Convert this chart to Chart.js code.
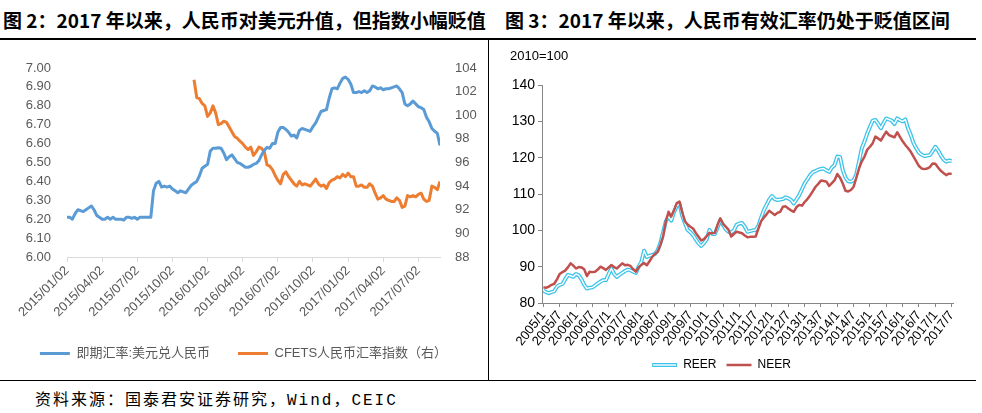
<!DOCTYPE html>
<html>
<head>
<meta charset="utf-8">
<script src="https://cdn.jsdelivr.net/npm/chart.js@4.4.0/dist/chart.umd.min.js"></script>
<style>
  body { margin: 0; background: #fff; width: 982px; height: 413px; position: relative; overflow: hidden; font-family: "Noto Sans CJK SC", sans-serif; }
  .title { position: absolute; top: 6px; font-weight: bold; font-size: 19px; color: #000; white-space: nowrap; line-height: 28px; }
  #t2 { left: 3px; }
  #t3 { left: 505px; }
  .hline { position: absolute; left: 0; width: 976px; background: #000; }
  #topLine { top: 38px; height: 2px; }
  #bottomLine { top: 380px; height: 1px; }
  #vline { position: absolute; left: 488px; top: 40px; width: 1px; height: 341px; background: #000; }
  #leftBox { position: absolute; left: 0; top: 40px; width: 487px; height: 330px; }
  #rightBox { position: absolute; left: 490px; top: 40px; width: 486px; height: 341px; }
  #unit { position: absolute; left: 510px; top: 48px; font: 13px "Liberation Sans", Arial, sans-serif; color: #000; }
  #source { position: absolute; left: 35px; top: 386px; font-size: 16px; letter-spacing: 2px; font-family: "Liberation Mono", "Noto Sans CJK SC", monospace; color: #000; }
</style>
</head>
<body>
<div class="title" id="t2">图 2：2017 年以来，人民币对美元升值，但指数小幅贬值</div>
<div class="title" id="t3">图 3：2017 年以来，人民币有效汇率仍处于贬值区间</div>
<div class="hline" id="topLine"></div>
<div id="vline"></div>
<div class="hline" id="bottomLine"></div>
<div id="leftBox"><canvas id="fxChart"></canvas></div>
<div id="rightBox"><canvas id="eerChart"></canvas></div>
<div id="unit">2010=100</div>
<div id="source">资料来源：国泰君安证券研究，Wind，CEIC</div>

<script>
// ---- figure 2: weekly data, 2015/01/02 onwards ----
var weekTicks = ['2015/01/02', '2015/04/02', '2015/07/02', '2015/10/02', '2016/01/02', '2016/04/02',
    '2016/07/02', '2016/10/02', '2017/01/02', '2017/04/02', '2017/07/02'];
var weeksPerTick = 13;

var usdCny = [
    6.21, 6.21, 6.20, 6.23, 6.25, 6.245, 6.24, 6.25, 6.26, 6.27,
    6.25, 6.22, 6.21, 6.20, 6.20, 6.21, 6.20, 6.21, 6.20, 6.20,
    6.20, 6.195, 6.21, 6.21, 6.205, 6.21, 6.20, 6.21, 6.21, 6.21,
    6.21, 6.21, 6.35, 6.39, 6.40, 6.37, 6.375, 6.37, 6.375, 6.36,
    6.35, 6.34, 6.35, 6.345, 6.34, 6.36, 6.38, 6.39, 6.40, 6.43,
    6.47, 6.48, 6.49, 6.56, 6.575, 6.575, 6.578, 6.575, 6.55, 6.515,
    6.53, 6.54, 6.52, 6.50, 6.495, 6.485, 6.475, 6.475, 6.48, 6.49,
    6.495, 6.51, 6.54, 6.565, 6.58, 6.575, 6.60, 6.60, 6.66, 6.685,
    6.685, 6.675, 6.66, 6.64, 6.645, 6.63, 6.67, 6.68, 6.675, 6.67,
    6.665, 6.69, 6.71, 6.74, 6.77, 6.775, 6.78, 6.84, 6.89, 6.895,
    6.89, 6.92, 6.945, 6.952, 6.94, 6.915, 6.87, 6.87, 6.875, 6.87,
    6.88, 6.87, 6.88, 6.905, 6.90, 6.89, 6.895, 6.885, 6.89, 6.89,
    6.895, 6.90, 6.905, 6.89, 6.87, 6.81, 6.80, 6.81, 6.825, 6.81,
    6.795, 6.79, 6.78, 6.74, 6.715, 6.68, 6.665, 6.655, 6.59
];

// CFETS index only starts at week 47 (end of 2015)
var cfetsStart = 47;
var cfets = [
    103.0, 101.5, 101.4, 101.0, 100.8, 99.9, 100.2, 100.8, 100.2, 99.2,
    99.3, 99.5, 99.4, 99.0, 98.6, 98.2, 98.05, 97.8, 97.6, 97.3,
    97.1, 97.3, 96.6, 96.9, 97.3, 97.2, 96.9, 95.8, 95.7, 95.4,
    94.9, 94.5, 94.2, 95.0, 95.2, 94.8, 94.5, 94.2, 94.0, 94.4,
    94.1, 94.2, 94.1, 94.0, 94.3, 94.6, 94.2, 94.0, 94.1, 93.8,
    94.3, 94.5, 94.6, 94.8, 94.7, 95.0, 94.8, 95.1, 94.8, 94.8,
    94.0, 94.0, 94.1, 93.9, 93.9, 94.2, 94.0, 93.4, 92.9, 93.0,
    93.2, 92.9, 92.8, 92.7, 92.7, 93.0, 92.8, 92.2, 92.3, 93.2,
    93.1, 93.2, 93.1, 93.3, 93.4, 92.9, 92.7, 92.8, 94.0, 93.9,
    93.7, 94.4
];

// ---- figure 3: monthly data, 2005/1 - 2017/7 ----
var monthTicks = ['2005/1', '2005/7', '2006/1', '2006/7', '2007/1', '2007/7', '2008/1', '2008/7',
    '2009/1', '2009/7', '2010/1', '2010/7', '2011/1', '2011/7', '2012/1', '2012/7', '2013/1',
    '2013/7', '2014/1', '2014/7', '2015/1', '2015/7', '2016/1', '2016/7', '2017/1', '2017/7'];
var monthsPerTick = 6;

var reer = [
    83.4, 83.0, 82.7, 83.0, 83.2, 84.5, 85.0, 85.2, 86.5, 87.7,
    87.5, 87.2, 88.0, 87.6, 86.5, 85.0, 84.0, 84.2, 84.3, 84.8,
    85.4, 85.9, 86.3, 86.3, 88.0, 89.5, 88.0, 87.2, 87.8, 88.3,
    88.8, 89.2, 89.0, 88.6, 88.3, 90.0, 91.3, 94.4, 92.7, 93.0,
    93.2, 93.5, 94.5, 96.5, 99.5, 102.5, 103.8, 102.7, 105.0, 106.7,
    107.4, 104.0, 102.0, 100.1, 99.5, 98.7, 97.5, 96.4, 95.7, 96.5,
    97.5, 100.1, 99.0, 99.0, 100.8, 102.8, 101.5, 100.3, 99.6, 99.4,
    100.0, 101.5, 101.9, 102.0, 101.0, 99.6, 99.8, 100.0, 100.1, 101.2,
    103.5, 105.5, 107.0, 108.5, 109.45, 108.6, 108.35, 108.5, 108.6, 109.1,
    108.8, 108.35, 107.4, 108.5, 109.7, 111.3, 112.9, 114.0, 115.2, 116.0,
    116.3, 116.7, 116.9, 117.0, 116.5, 116.1, 117.3, 118.0, 120.3, 120.2,
    116.6, 114.5, 113.5, 113.4, 113.8, 115.5, 119.0, 122.6, 124.5, 126.7,
    128.5, 130.2, 130.4, 129.3, 128.1, 129.6, 130.8, 130.5, 130.2, 129.3,
    130.8, 130.3, 130.0, 130.55, 128.0, 126.2, 124.0, 122.6, 121.4, 120.8,
    120.45, 120.6, 120.7, 121.8, 123.0, 122.0, 120.7, 119.5, 118.9, 119.2,
    119.1
];

var neer = [
    84.3, 84.2, 84.5, 85.0, 85.3, 86.5, 88.0, 88.5, 88.9, 89.8,
    90.9, 90.3, 89.5, 89.9, 89.8, 89.3, 87.4, 88.6, 88.5, 88.6,
    89.2, 90.0, 89.6, 89.1, 89.8, 90.45, 89.9, 89.5, 90.2, 90.9,
    90.4, 90.5, 90.2, 89.3, 88.6, 89.8, 90.5, 91.0, 90.4, 91.5,
    92.7, 93.5, 94.1, 96.0, 98.3, 102.5, 105.1, 103.8, 105.5, 107.5,
    107.9, 105.0, 102.5, 101.6, 101.0, 100.5, 99.3, 98.25, 97.2, 97.6,
    98.4, 99.3, 99.2, 99.3, 101.5, 103.3, 101.8, 101.0, 100.2, 98.3,
    99.0, 99.6, 99.4, 99.2, 98.6, 98.1, 98.2, 98.2, 98.3, 100.5,
    102.5, 103.5, 104.4, 105.4, 104.8, 104.2, 104.8, 105.1, 106.5, 106.6,
    106.0, 105.5, 105.1, 106.4, 107.0, 106.8, 107.8, 108.6, 109.6, 110.8,
    112.0, 112.8, 113.7, 113.6, 113.4, 112.2, 113.0, 113.8, 115.5, 114.5,
    112.9, 110.9, 110.7, 111.1, 112.0, 114.5, 117.1, 119.0, 120.3, 122.2,
    123.0, 124.0, 125.8, 125.3, 124.7, 126.0, 127.15, 126.2, 125.9, 125.6,
    127.0, 125.7, 124.5, 123.5, 122.6, 121.6, 120.3, 119.0, 117.7, 117.0,
    116.85, 117.0, 117.4, 118.4, 118.3, 117.3, 116.4, 115.8, 115.2, 115.6,
    115.6
];

var sansFont = '"Liberation Sans", "Noto Sans CJK SC", sans-serif';

function toPoints(values, start) {
    return values.map(function (v, i) { return { x: start + i, y: v }; });
}

// figure 2
var fxCtx = document.getElementById('fxChart').getContext('2d');
var fxChart = new Chart(fxCtx, {
    type: 'line',
    data: {
        datasets: [{
            label: '即期汇率:美元兑人民币',
            data: toPoints(usdCny, 0),
            yAxisID: 'y',
            borderColor: '#5B9BD5',
            borderWidth: 3,
            borderJoinStyle: 'round',
            pointRadius: 0
        }, {
            label: 'CFETS人民币汇率指数（右）',
            data: toPoints(cfets, cfetsStart),
            yAxisID: 'y1',
            borderColor: '#ED7D31',
            borderWidth: 3,
            borderJoinStyle: 'round',
            pointRadius: 0
        }]
    },
    options: {
        responsive: true,
        maintainAspectRatio: false,
        animation: false,
        events: [],
        layout: { padding: { top: 28, left: 0, right: 0, bottom: 0 } },
        scales: {
            x: {
                type: 'linear',
                min: 0,
                max: usdCny.length - 1,
                afterBuildTicks: function (scale) {
                    scale.ticks = weekTicks.map(function (t, k) { return { value: k * weeksPerTick }; });
                },
                afterFit: function (scale) { scale.height = 62; },
                ticks: {
                    callback: function (v) { return weekTicks[Math.round(v / weeksPerTick)]; },
                    minRotation: 45,
                    maxRotation: 45,
                    autoSkip: false,
                    padding: 1,
                    color: '#595959',
                    font: { family: sansFont, size: 13 }
                },
                grid: { drawOnChartArea: false, color: '#d9d9d9', tickLength: 5 },
                border: { color: '#d9d9d9' }
            },
            y: {
                position: 'left',
                min: 6,
                max: 7,
                afterFit: function (scale) { scale.width = 67; },
                ticks: {
                    stepSize: 0.1,
                    callback: function (v) { return v.toFixed(2); },
                    padding: 16,
                    color: '#595959',
                    font: { family: sansFont, size: 13 }
                },
                grid: { display: false, drawTicks: false },
                border: { display: false }
            },
            y1: {
                position: 'right',
                min: 88,
                max: 104,
                afterFit: function (scale) { scale.width = 47; },
                ticks: {
                    stepSize: 2,
                    padding: 15,
                    color: '#595959',
                    font: { family: sansFont, size: 13 }
                },
                grid: { display: false, drawTicks: false },
                border: { display: false }
            }
        },
        plugins: {
            tooltip: { enabled: false },
            legend: {
                position: 'bottom',
                labels: {
                    usePointStyle: true,
                    pointStyle: 'line',
                    pointStyleWidth: 30,
                    padding: 28,
                    color: '#595959',
                    font: { family: sansFont, size: 13 }
                }
            }
        }
    }
});

// draws the white core of the REER double line in the legend sample
var doubleLegendPlugin = {
    id: 'doubleLegend',
    afterDraw: function (chart) {
        var legend = chart.legend;
        if (!legend || !legend.legendHitBoxes.length) return;
        var box = legend.legendHitBoxes[0];
        var w = legend.options.labels.pointStyleWidth;
        var y = box.top + legend.options.labels.font.size / 2;
        var ctx = chart.ctx;
        ctx.save();
        ctx.strokeStyle = '#ffffff';
        ctx.lineWidth = 1.4;
        ctx.beginPath();
        ctx.moveTo(box.left + 1, y);
        ctx.lineTo(box.left + w - 1, y);
        ctx.stroke();
        ctx.restore();
    }
};

// figure 3
var eerCtx = document.getElementById('eerChart').getContext('2d');
var eerChart = new Chart(eerCtx, {
    type: 'line',
    data: {
        datasets: [{
            label: 'REER',
            data: toPoints(reer, 0),
            borderColor: '#3CC3EA',
            borderWidth: 4,
            borderJoinStyle: 'round',
            pointRadius: 0,
            order: 3
        }, {
            label: 'REER core',
            data: toPoints(reer, 0),
            borderColor: '#ffffff',
            borderWidth: 1.4,
            borderJoinStyle: 'round',
            pointRadius: 0,
            order: 2
        }, {
            label: 'NEER',
            data: toPoints(neer, 0),
            borderColor: '#C0504D',
            borderWidth: 2.5,
            borderJoinStyle: 'round',
            pointRadius: 0,
            order: 1
        }]
    },
    options: {
        responsive: true,
        maintainAspectRatio: false,
        animation: false,
        events: [],
        layout: { padding: { top: 45, left: 0, right: 23, bottom: 0 } },
        scales: {
            x: {
                type: 'linear',
                min: -0.5,
                max: reer.length - 0.5,
                afterBuildTicks: function (scale) {
                    scale.ticks = monthTicks.map(function (t, k) { return { value: k * monthsPerTick }; });
                },
                afterFit: function (scale) { scale.height = 46; },
                ticks: {
                    callback: function (v) { return monthTicks[Math.round(v / monthsPerTick)]; },
                    minRotation: 52,
                    maxRotation: 52,
                    autoSkip: false,
                    padding: 1,
                    color: '#000',
                    font: { family: sansFont, size: 13 }
                },
                grid: { drawOnChartArea: false, color: '#868686', tickLength: 4 },
                border: { color: '#868686' }
            },
            y: {
                min: 80,
                max: 140,
                afterFit: function (scale) { scale.width = 52; },
                ticks: {
                    stepSize: 10,
                    padding: 3,
                    color: '#000',
                    font: { family: sansFont, size: 14 }
                },
                grid: { drawOnChartArea: false, color: '#868686', tickLength: 4 },
                border: { color: '#868686' }
            }
        },
        plugins: {
            tooltip: { enabled: false },
            legend: {
                position: 'bottom',
                labels: {
                    usePointStyle: true,
                    pointStyle: 'line',
                    pointStyleWidth: 25,
                    padding: 10,
                    color: '#000',
                    font: { family: sansFont, size: 12 },
                    filter: function (item) { return item.text !== 'REER core'; },
                    sort: function (a, b) { return a.datasetIndex - b.datasetIndex; }
                }
            }
        }
    },
    plugins: [doubleLegendPlugin]
});
</script>
</body>
</html>
